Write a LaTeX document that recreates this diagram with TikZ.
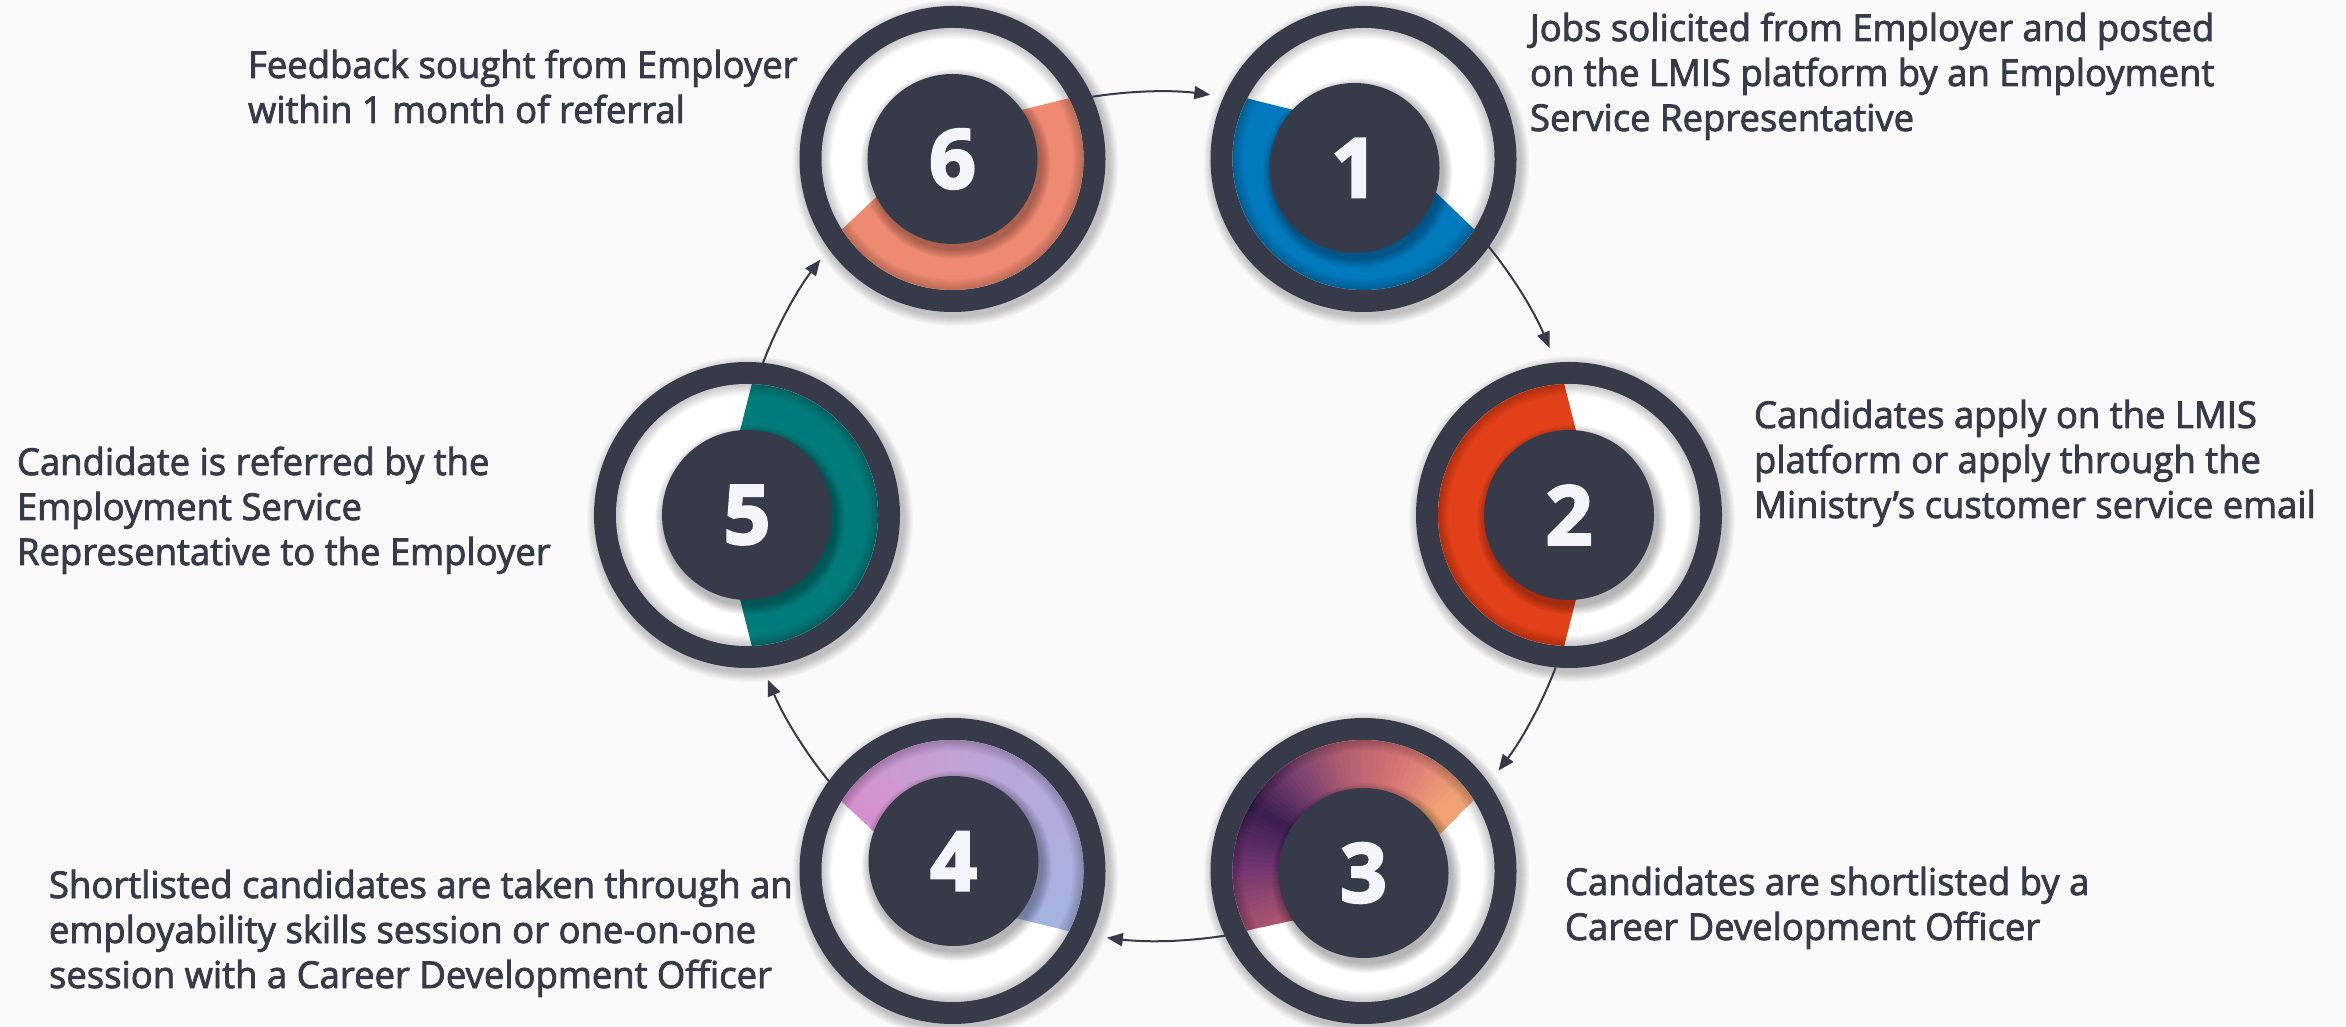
\documentclass[tikz,border=0pt]{standalone}
\usepackage{fontspec}
\setmainfont{Open Sans}
\newfontfamily\labelfont{Open Sans}[FakeBold=2.2,FakeStretch=0.985]
\newfontfamily\digitfont{Open Sans}[FakeBold=3]
\usetikzlibrary{arrows.meta,calc}
\definecolor{ringdark}{HTML}{363A49}
\definecolor{bgcol}{HTML}{FAFAFB}
\definecolor{numwhite}{HTML}{F4F5FA}
\definecolor{bandsalmon}{HTML}{EF8A72}
\definecolor{bandblue}{HTML}{0079BD}
\definecolor{bandred}{HTML}{E24018}
\definecolor{bandteal}{HTML}{007B7B}
\definecolor{pa}{HTML}{C4606D}
\definecolor{pb}{HTML}{9A4C70}
\definecolor{pc}{HTML}{6A3270}
\definecolor{pd}{HTML}{3A1E50}
\definecolor{pe}{HTML}{7A4070}
\definecolor{pf}{HTML}{B25E70}
\definecolor{pg}{HTML}{D87676}
\definecolor{ph}{HTML}{F0A274}
\definecolor{qa}{HTML}{D690CE}
\definecolor{qb}{HTML}{CC9AD3}
\definecolor{qc}{HTML}{C2A2D6}
\definecolor{qd}{HTML}{B6A9DC}
\definecolor{qe}{HTML}{ABB0E0}
\definecolor{qf}{HTML}{A0B6E2}
\def\Rout{153}
\def\Rin{131}
\def\Rdisc{85}
\newcommand{\gradwedges}[1]{%
  \foreach \aa/\ca/\ab/\cb in {#1} {%
    \foreach \t in {0,...,9} {%
      \pgfmathsetmacro\sa{\aa+(\ab-\aa)*\t/10}%
      \pgfmathsetmacro\sb{\aa+(\ab-\aa)*(\t+1.3)/10}%
      \pgfmathtruncatemacro\pp{\t*10+5}%
      \fill[\cb!\pp!\ca] (0,0) -- (\sa:145) arc[start angle=\sa, end angle=\sb, radius=145] -- cycle;
    }%
  }%
}
\newcommand{\ringstage}[5]{%
  \begin{scope}[shift={(#1.center)}]
    \foreach \k in {0,...,9} \fill[black,opacity=0.025] (3,-4) circle ({\Rout+10-\k});
    \fill[ringdark] (0,0) circle (\Rout);
    \fill[white] (0,0) circle (\Rin);
    \begin{scope}
      \clip (0,0) circle (\Rin);
      \begin{scope}
        \clip #2;
        #3
      \end{scope}
      \foreach \k in {1,...,9} {%
        \pgfmathsetmacro\lw{\k*2.4}%
        \draw[black,opacity=0.022,line width=\lw pt] (0,0) circle (\Rin);
      }
      \foreach \k in {0,...,9} \fill[black,opacity=0.032] ($(#4)+(3,-5)$) circle ({\Rdisc+10-\k});
    \end{scope}
    \fill[ringdark] (#4) circle (\Rdisc);
  \end{scope}
  \node[numtext] (n#1) at ($(#1.center)+(#4)$) {#5};
}
\begin{document}
\begin{tikzpicture}[x=1pt,y=1pt,
  lbl/.style={font=\labelfont\fontsize{37}{45}\selectfont, text=ringdark, anchor=base west, inner sep=0pt, outer sep=0pt},
  numtext/.style={font=\digitfont\bfseries\fontsize{82}{82}\selectfont, text=numwhite, inner sep=0pt},
  stage/.style={circle, minimum size=306pt, inner sep=0pt, outer sep=0pt},
  flow/.style={draw=ringdark, line width=2pt, -{Triangle[length=16pt,width=13pt]}}]
\useasboundingbox (0,0) rectangle (2346,1026);
\fill[bgcol] (0,0) rectangle (2346,1026);
\coordinate (hub) at (1158,511);
\node[stage] (c6) at (952.5,867) {};
\node[stage] (c1) at (1363.5,867) {};
\node[stage] (c2) at (1569,511) {};
\node[stage] (c3) at (1363.5,155) {};
\node[stage] (c4) at (952.5,155) {};
\node[stage] (c5) at (747,511) {};

\ringstage{c6}{(162.8,72.4) -- (200,72.4) -- (200,-200) -- (-200,-200) -- (-159.7,-116.7) -- (-42.4,-6.1) -- (22.4,37.3) -- cycle}{\fill[bandsalmon] (0,0) circle (145);}{0,0}{6}
\ringstage{c1}{(-163.4,72.4) -- (-200,72.4) -- (-200,-200) -- (200,-200) -- (166.8,-124.3) -- (35.9,1.7) -- (-23.3,37.3) -- cycle}{\fill[bandblue] (0,0) circle (145);}{-9,-9}{1}
\ringstage{c2}{(-11.9,159) -- (12.9,61) -- (12.9,-61) -- (-11.9,-159) -- (-200,-159) -- (-200,159) -- cycle}{\fill[bandred] (0,0) circle (145);}{0,0}{2}
\ringstage{c3}{(143,104.1) -- (143,200) -- (-200,200) -- (-200,-69.3) -- (-161.4,-69.3) -- (-38,-42.3) -- (44,3.9) -- cycle}{\gradwedges{225/pa/200/pb, 200/pb/175/pc, 175/pc/150/pd, 150/pd/125/pe, 125/pe/100/pf, 100/pf/70/pg, 70/pg/40/ph, 40/ph/15/ph}}{0,-2}{3}
\ringstage{c4}{(-140.8,97.3) -- (-140.8,200) -- (200,200) -- (200,-70.6) -- (159,-70.6) -- (34.6,-40) -- (-49.6,12.4) -- cycle}{\gradwedges{165/qa/145/qa, 145/qa/120/qb, 120/qb/90/qc, 90/qc/45/qd, 45/qd/0/qe, 0/qe/-45/qf}}{1,10}{4}
\ringstage{c5}{(11.9,159) -- (-12.9,61) -- (-12.9,-61) -- (11.9,-159) -- (200,-159) -- (200,159) -- cycle}{\fill[bandteal] (0,0) circle (145);}{0,0}{5}

\draw[flow] (c6.24.3) arc[start angle=99, delta angle=-16, radius=424];
\draw[flow] (c1.-35.7) arc[start angle=39, delta angle=-16, radius=424];
\draw[flow] (c2.-95.7) arc[start angle=-21, delta angle=-16, radius=424];
\draw[flow] (c3.-155.7) arc[start angle=-81, delta angle=-16, radius=424];
\draw[flow] (c4.144.3) arc[start angle=-141, delta angle=-16, radius=424];
\draw[flow] (c5.84.3) arc[start angle=159, delta angle=-16, radius=424];

\node[lbl] (t6a) at (248,948) {Feedback sought from Employer};
\node[lbl] (t6b) at (248,903) {within 1 month of referral};
\node[lbl] (t1a) at (1530,985) {Jobs solicited from Employer and posted};
\node[lbl] (t1b) at (1530,940) {on the LMIS platform by an Employment};
\node[lbl] (t1c) at (1530,895) {Service Representative};
\node[lbl] (t2a) at (1754,598) {Candidates apply on the LMIS};
\node[lbl] (t2b) at (1754,553) {platform or apply through the};
\node[lbl] (t2c) at (1754,508) {Ministry’s customer service email};
\node[lbl] (t3a) at (1565,131) {Candidates are shortlisted by a};
\node[lbl] (t3b) at (1565,86) {Career Development Officer};
\node[lbl] (t4a) at (49,128) {Shortlisted candidates are taken through an};
\node[lbl] (t4b) at (49,83) {employability skills session or one-on-one};
\node[lbl] (t4c) at (49,38) {session with a Career Development Officer};
\node[lbl] (t5a) at (17,551) {Candidate is referred by the};
\node[lbl] (t5b) at (17,506) {Employment Service};
\node[lbl] (t5c) at (17,461) {Representative to the Employer};
\end{tikzpicture}
\end{document}
